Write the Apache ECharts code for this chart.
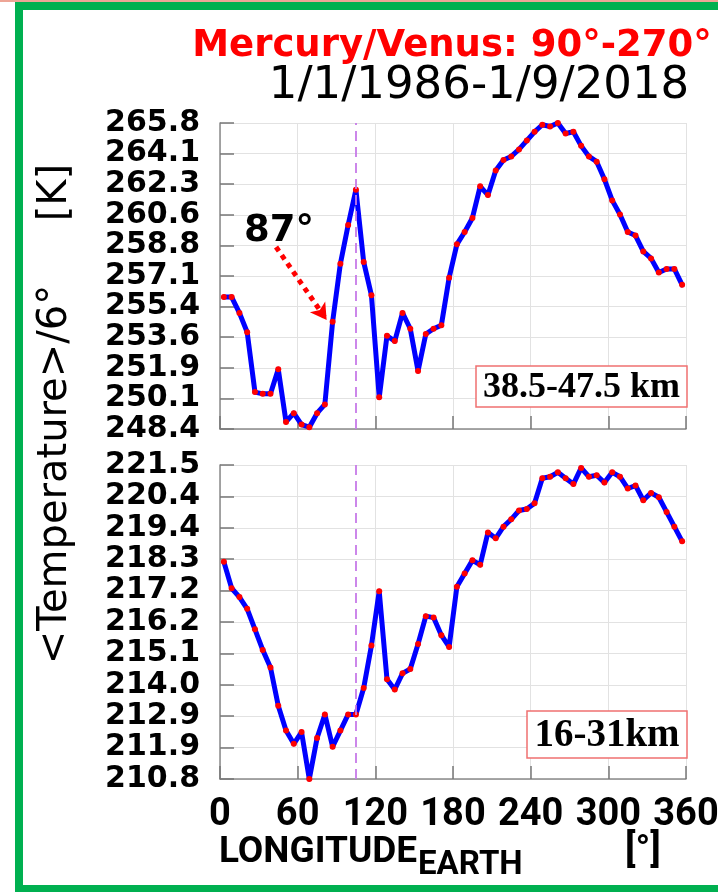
<!DOCTYPE html>
<html><head><meta charset="utf-8">
<script src="https://cdn.jsdelivr.net/npm/echarts@6/dist/echarts.min.js"></script>
<style>html,body{margin:0;padding:0;background:#fff}#c{width:718px;height:892px}</style>
</head><body><div id="c"></div>
<script>
// Longitude bin centres (6-degree bins)
const longitudes = [3,9,15,21,27,33,39,45,51,57,63,69,75,81,87,93,99,105,111,117,
  123,129,135,141,147,153,159,165,171,177,183,189,195,201,207,213,219,225,231,237,
  243,249,255,261,267,273,279,285,291,297,303,309,315,321,327,333,339,345,351,357];
// 38.5-47.5 km layer
const tempUpper = [255.9,255.9,255.0,253.9,250.5,250.4,250.4,251.8,248.8,249.3,
  248.65,248.5,249.3,249.8,254.5,257.8,260.0,262.0,257.9,256.0,
  250.2,253.7,253.4,255.0,254.1,251.7,253.8,254.1,254.3,257.0,
  258.9,259.6,260.4,262.2,261.7,263.1,263.7,263.9,264.3,264.8,
  265.3,265.7,265.6,265.8,265.2,265.3,264.5,263.9,263.6,262.6,
  261.4,260.6,259.6,259.4,258.5,258.1,257.3,257.5,257.5,256.6];
// 16-31 km layer
const tempLower = [218.2,217.3,217.0,216.6,215.9,215.2,214.6,213.3,212.45,212.0,
  212.4,210.8,212.2,213.0,211.9,212.45,213.0,213.0,213.9,215.35,
  217.2,214.2,213.85,214.4,214.55,215.4,216.35,216.3,215.7,215.3,
  217.35,217.8,218.25,218.1,219.2,219.0,219.4,219.65,219.95,220.0,
  220.2,221.05,221.1,221.25,221.05,220.85,221.4,221.1,221.15,220.9,
  221.25,221.1,220.7,220.8,220.3,220.55,220.4,219.9,219.4,218.9];
const upperTicks = ['248.4','250.1','251.9','253.6','255.4','257.1','258.8','260.6','262.3','264.1','265.8'];
const lowerTicks = ['210.8','211.9','212.9','214.0','215.1','216.2','217.2','218.3','219.4','220.4','221.5'];
const lonTicks = ['0','60','120','180','240','300','360'];
const markerLon = 105;
const arrowFrom = [43.3, 258.75];
const arrowTo = [82.4, 254.6];

const chart = echarts.init(document.getElementById('c'), null, {renderer:'canvas'});

function yAxisCfg(idx, ticks){
  const mn = parseFloat(ticks[0]), mx = parseFloat(ticks[ticks.length-1]);
  return {
    type:'value', gridIndex: idx, min: mn, max: mx,
    interval: (mx - mn) / (ticks.length - 1),
    axisLine:{show:true, lineStyle:{color:'#8a8a8a', width:1.5}},
    axisTick:{show:true, inside:true, length:14, lineStyle:{color:'#777', width:1.5}},
    splitLine:{show:true, lineStyle:{color:'#e2e2e2', width:1}},
    axisLabel:{show:true, margin:20, color:'#000', fontFamily:'DejaVu Sans', fontWeight:'bold', fontSize:30,
      lineHeight:26, showMinLabel:true, showMaxLabel:true, hideOverlap:false,
      formatter:(v, i) => ticks[i] !== undefined ? ticks[i] : (v + 1e-6).toFixed(1)}
  };
}
function xAxisCfg(idx, showLabel){
  return {
    type:'value', gridIndex: idx, min:0, max:360, interval:60,
    axisLine:{show:true, lineStyle:{color:'#8a8a8a', width:1.5}},
    axisTick:{show:true, inside:true, length:13, lineStyle:{color:'#777', width:1.5}},
    splitLine:{show:true, lineStyle:{color:'#e2e2e2', width:1}},
    axisLabel:{show:showLabel, margin:17, color:'#000', showMinLabel:true, showMaxLabel:true, hideOverlap:false,
      fontFamily:'Roboto', fontWeight:'bold', fontSize:38,
      formatter:(v, i) => lonTicks[i] !== undefined ? lonTicks[i] : String(v)}
  };
}
function seriesCfg(idx, values, extraMarks){
  const marks = [{xAxis: markerLon, symbol:'none',
      lineStyle:{color:'#c77ae8', type:[10,6], width:1.8}}];
  if (extraMarks) marks.push(extraMarks);
  return {
    type:'line', xAxisIndex: idx, yAxisIndex: idx,
    data: longitudes.map((lon, i) => [lon, values[i]]),
    smooth:false, clip:false,
    lineStyle:{color:'#0000ff', width:5, cap:'round', join:'round'},
    symbol:'circle', symbolSize:6, showSymbol:true,
    itemStyle:{color:'#ff0000', borderWidth:0},
    emphasis:{disabled:true},
    markLine:{silent:true, animation:false, symbol:['none','none'], label:{show:false},
      data: marks}
  };
}

const option = {
  animation:false,
  backgroundColor:'#ffffff',
  grid:[
    {left:220, width:466, top:123, height:306, containLabel:false, outerBoundsMode:'none'},
    {left:220, width:466, top:465, height:314, containLabel:false, outerBoundsMode:'none'}
  ],
  xAxis:[xAxisCfg(0,false), xAxisCfg(1,true)],
  yAxis:[yAxisCfg(0, upperTicks), yAxisCfg(1, lowerTicks)],
  series:[
    seriesCfg(0, tempUpper, [
      {coord: arrowFrom, symbol:'none', lineStyle:{color:'#ff0000', type:[5,5], width:5}},
      {coord: arrowTo, symbol:'arrow', symbolSize:[14,16]}
    ]),
    seriesCfg(1, tempLower, null)
  ],
  graphic:[
    {type:'rect', z:-10, shape:{x:0, y:0, width:718, height:2}, style:{fill:'#eea596'}},
    {type:'rect', z:100, shape:{x:19, y:6, width:730, height:883}, style:{fill:null, stroke:'#00b050', lineWidth:8}},
    {type:'text', z:100, style:{x:452, y:27.5, text:'Mercury/Venus: 90°-270°', textAlign:'center', textVerticalAlign:'top',
      fill:'#ff0000', font:'bold 37px "DejaVu Sans"'}},
    {type:'text', z:100, style:{x:479, y:64, text:'1/1/1986-1/9/2018', textAlign:'center', textVerticalAlign:'top',
      fill:'#000', font:'45px "DejaVu Sans"'}},
    {type:'text', z:100, x:56, y:414, rotation:Math.PI/2, style:{x:0, y:0, text:'<Temperature>/6°     [K]',
      textAlign:'center', textVerticalAlign:'middle', fill:'#000', font:'40px "DejaVu Sans"'}},
    {type:'text', z:100, style:{x:244, y:212.5, text:'87°', textAlign:'left', textVerticalAlign:'top',
      fill:'#000', font:'bold 37px "DejaVu Sans"'}},
    {type:'rect', z:100, shape:{x:476, y:366, width:211, height:41}, style:{fill:'#fff', stroke:'#f07070', lineWidth:1.5}},
    {type:'text', z:101, style:{x:581.5, y:388, text:'38.5-47.5 km', textAlign:'center', textVerticalAlign:'middle',
      fill:'#000', font:'bold 36px "Liberation Serif"'}},
    {type:'rect', z:100, shape:{x:527, y:711, width:160, height:47}, style:{fill:'#fff', stroke:'#f07070', lineWidth:1.5}},
    {type:'text', z:101, style:{x:607, y:736, text:'16-31km', textAlign:'center', textVerticalAlign:'middle',
      fill:'#000', font:'bold 39px "Liberation Serif"'}},
    {type:'text', z:100, style:{x:219, y:834, text:'LONGITUDE', textAlign:'left', textVerticalAlign:'top',
      fill:'#000', font:'bold 37px Roboto'}},
    {type:'text', z:100, style:{x:418, y:849, text:'EARTH', textAlign:'left', textVerticalAlign:'top',
      fill:'#000', font:'bold 33px Roboto'}},
    {type:'text', z:100, style:{x:625, y:833, text:'[°]', textAlign:'left', textVerticalAlign:'top',
      fill:'#000', font:'bold 38px Roboto'}}
  ]
};
chart.setOption(option);
</script>
</body></html>
